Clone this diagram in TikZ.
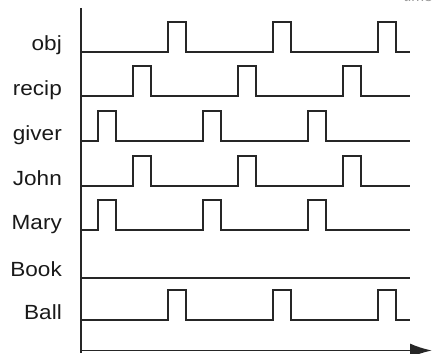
\documentclass[tikz,border=0pt]{standalone}
\usepackage{fontspec}
\setmainfont[FakeStretch=1.1]{Liberation Sans}
\usetikzlibrary{arrows.meta}
\tikzset{
  sig/.style={line width=1.9pt, draw=black!85, line join=miter},
  axisline/.style={line width=1.9pt, draw=black!85},
  lbl/.style={anchor=base east, inner sep=0pt, font=\fontsize{20.5}{24}\selectfont, text=black!90}
}
\newcommand\pulsetrain[2]{%
  \draw[sig] (81,#1) foreach \k in {0,1,2}{ -- ({#2+105*\k},#1) -- ++(0,-30) -- ++(18,0) -- ++(0,30)} -- (410,#1);}
\begin{document}
\begin{tikzpicture}[x=1pt,y=-1pt]
\useasboundingbox (0,0) rectangle (433,353);
% axes
\coordinate (ytop) at (81,8);
\coordinate (ybot) at (81,353);
\coordinate (xstart) at (81,350.5);
\coordinate (xend) at (432,350.5);
\draw[axisline] (ytop) -- (ybot);
\draw[axisline, -{Latex[length=22pt,width=14pt]}] (xstart) -- (xend);
\node[anchor=base east, inner sep=0pt, font=\fontsize{14}{16}\selectfont, text=black!40] (time) at (433,1.5) {time};
% labels
\node[lbl] (lobj) at (62,51) {obj};
\node[lbl] (lrecip) at (62,95) {recip};
\node[lbl] (lgiver) at (62,140) {giver};
\node[lbl] (ljohn) at (62,185) {John};
\node[lbl] (lmary) at (62,229) {Mary};
\node[lbl] (lbook) at (62,276.5) {Book};
\node[lbl] (lball) at (62,319) {Ball};
% signals
\pulsetrain{52}{168}
\pulsetrain{96}{133}
\pulsetrain{141}{98}
\pulsetrain{186}{133}
\pulsetrain{230}{98}
\draw[sig] (81,278) -- (410,278);
\pulsetrain{320}{168}
\end{tikzpicture}
\end{document}
